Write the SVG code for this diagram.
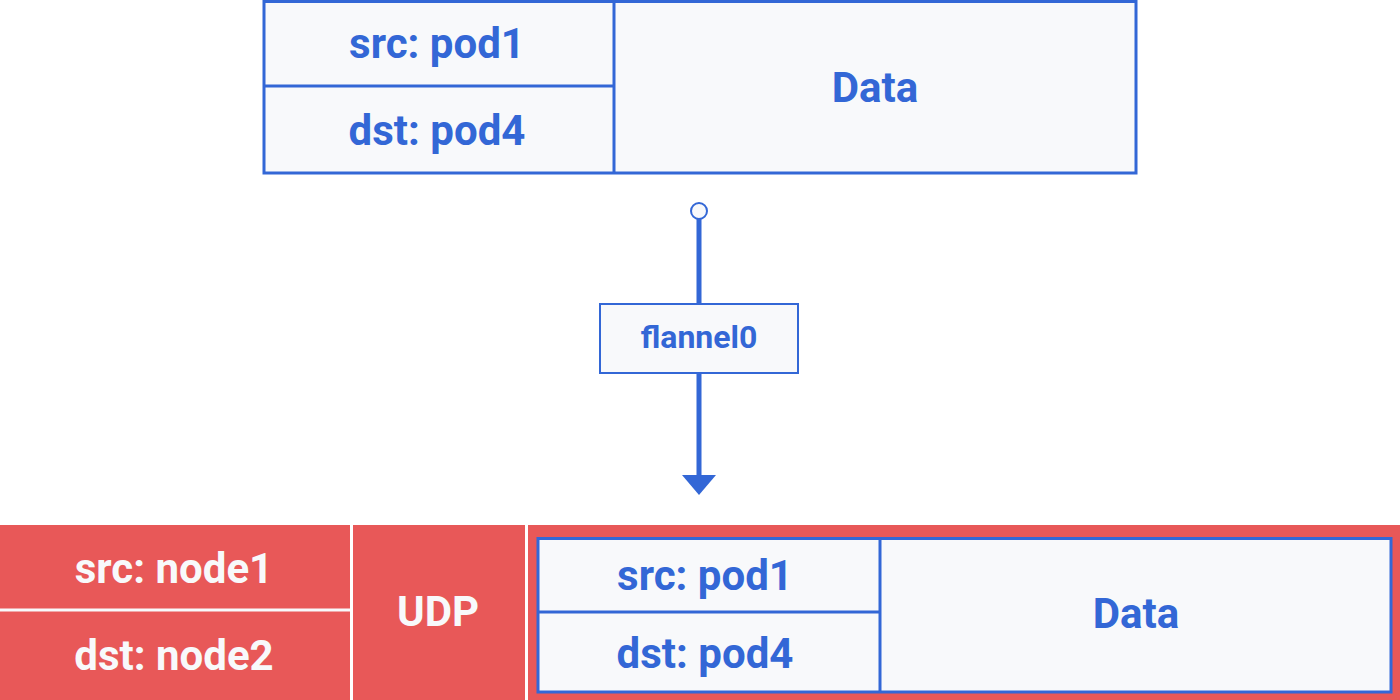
<svg xmlns="http://www.w3.org/2000/svg" width="1400" height="700" viewBox="0 0 1400 700">
<style>
.box{fill:#f8f9fb;stroke:#3367d6;stroke-width:3}
.ln{stroke:#3367d6;stroke-width:3}
.red{fill:#e85858}
.wl{stroke:#f8f9fb;stroke-width:3}
.tb{font-family:Roboto,"Liberation Sans",sans-serif;font-weight:bold;font-size:42px;fill:#3367d6;text-anchor:middle}
.tw{font-family:Roboto,"Liberation Sans",sans-serif;font-weight:bold;font-size:42px;fill:#f8f9fb;text-anchor:middle}
.ts{font-family:Roboto,"Liberation Sans",sans-serif;font-weight:bold;font-size:32px;fill:#3367d6;text-anchor:middle}
</style>
<rect width="1400" height="700" fill="#ffffff"/>
<g id="top-packet">
<rect class="box" x="264" y="1.5" width="872" height="171.5"/>
<line class="ln" x1="614" y1="1.5" x2="614" y2="173"/>
<line class="ln" x1="264" y1="86" x2="614" y2="86"/>
<text class="tb" x="437" y="58">src: pod1</text>
<text class="tb" x="437" y="145">dst: pod4</text>
<text class="tb" x="875" y="102">Data</text>
</g>
<g id="connectors">
<line x1="699" y1="219" x2="699" y2="478" stroke="#3367d6" stroke-width="5"/>
<circle cx="699" cy="211" r="8" fill="#f8f9fb" stroke="#3367d6" stroke-width="2"/>
<polygon points="682,475 716,475 699,495" fill="#3367d6"/>
</g>
<g id="flannel0">
<rect x="600" y="304" width="198" height="69" fill="#f8f9fb" stroke="#3367d6" stroke-width="2"/>
<text class="ts" x="699" y="348">flannel0</text>
</g>
<g id="outer-header">
<rect class="red" x="0" y="525" width="350" height="175"/>
<line class="wl" x1="0" y1="610" x2="350" y2="610"/>
<rect class="red" x="353" y="525" width="172" height="175"/>
<rect class="red" x="528" y="525" width="872" height="175"/>
<text class="tw" x="174" y="583">src: node1</text>
<text class="tw" x="174" y="670">dst: node2</text>
<text class="tw" x="438" y="626">UDP</text>
</g>
<g id="inner-packet">
<rect class="box" x="538" y="538.5" width="853" height="153.5"/>
<line class="ln" x1="880" y1="538.5" x2="880" y2="692"/>
<line class="ln" x1="538" y1="612" x2="880" y2="612"/>
<text class="tb" x="705" y="590">src: pod1</text>
<text class="tb" x="705" y="668">dst: pod4</text>
<text class="tb" x="1136" y="628">Data</text>
</g>
</svg>
